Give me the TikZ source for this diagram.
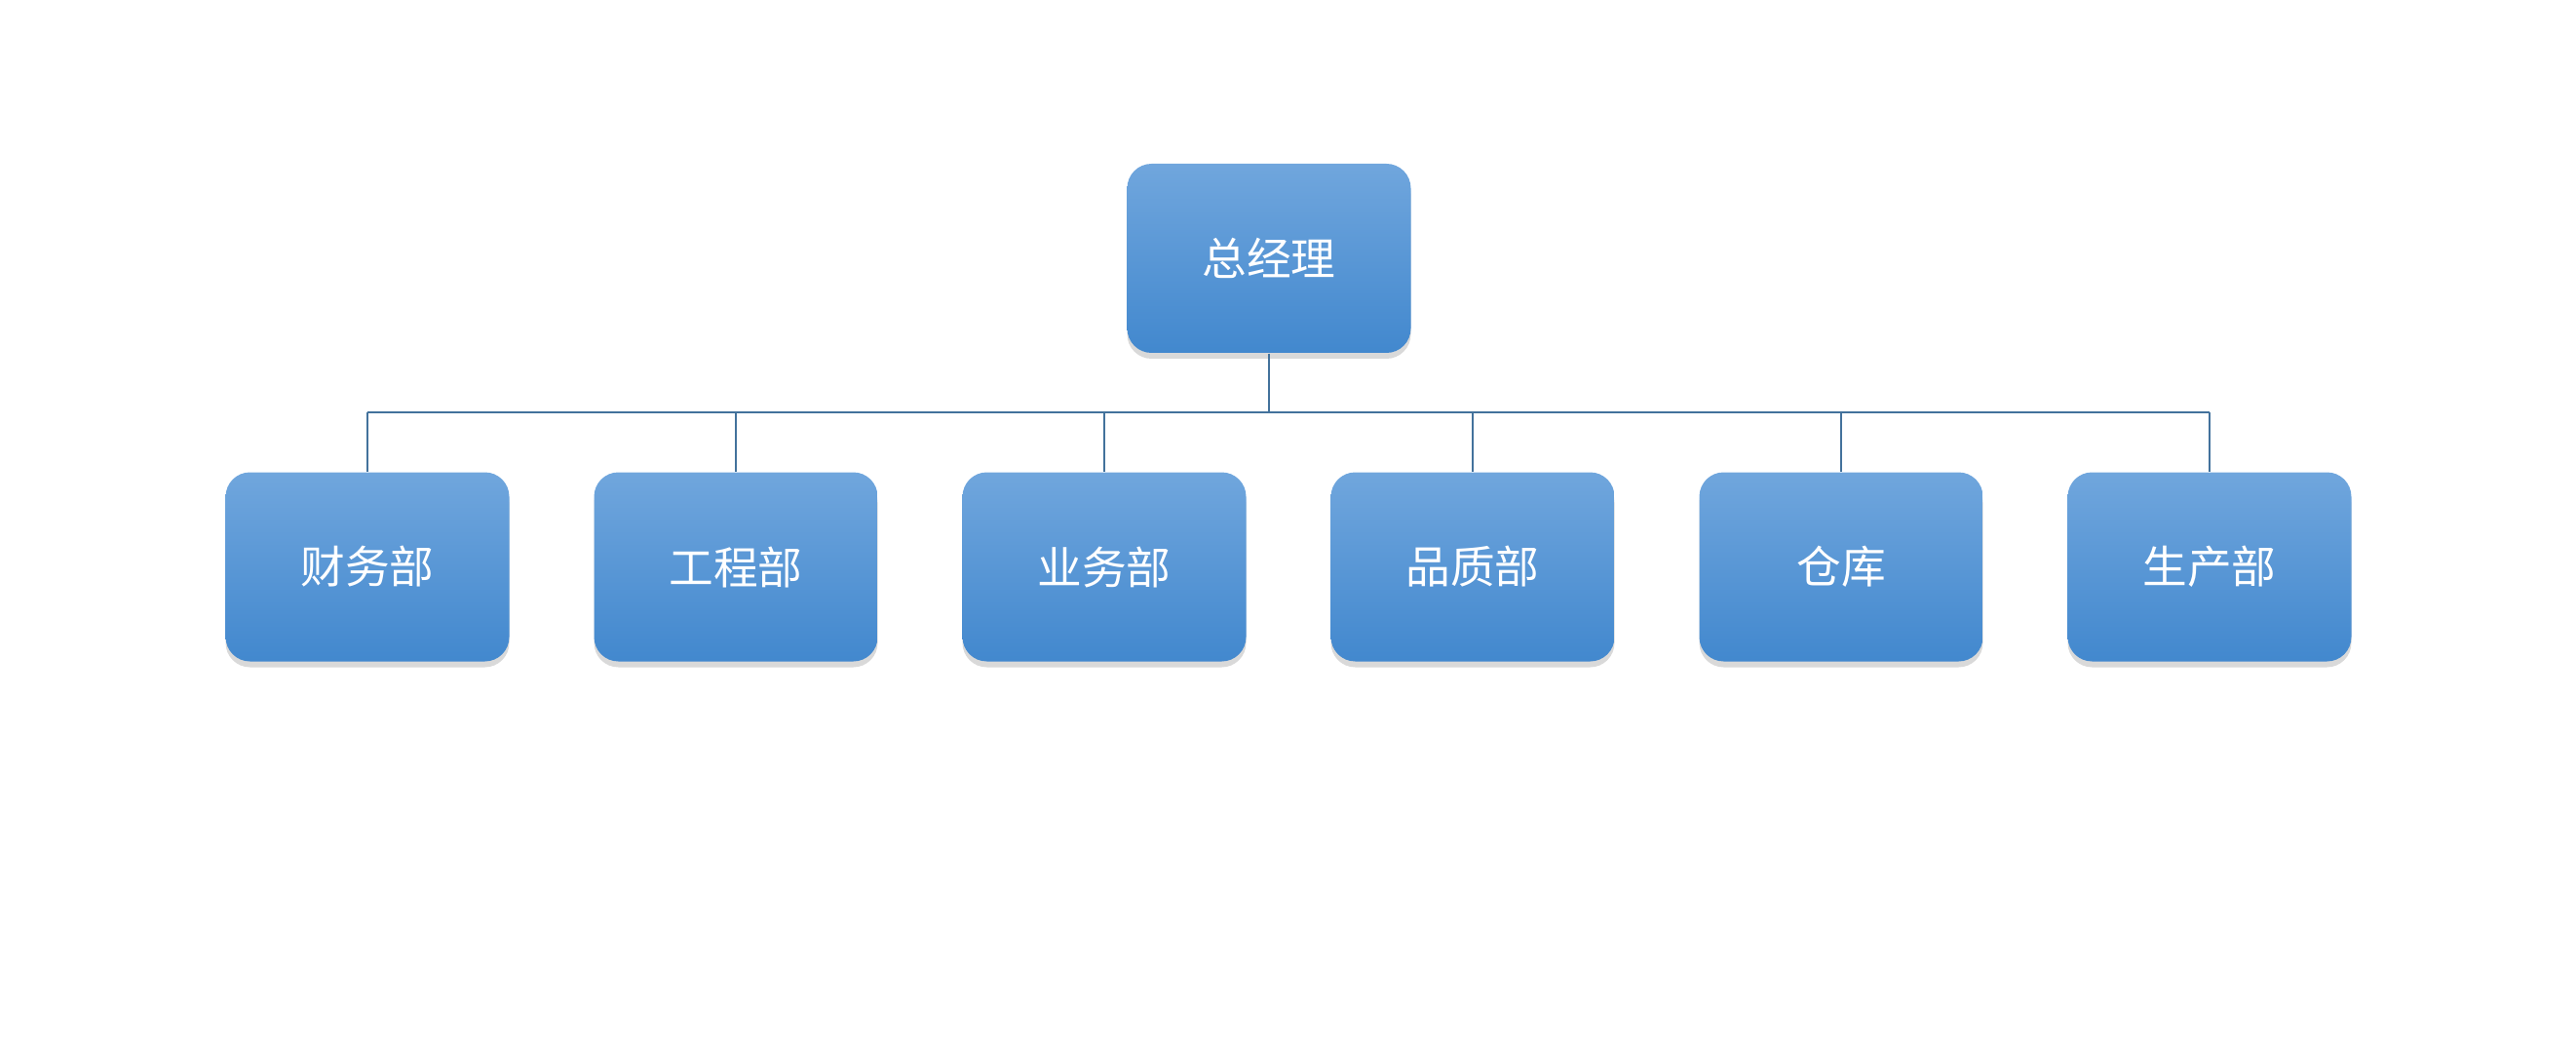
\documentclass[tikz,border=0pt]{standalone}
\usepackage{fontspec}
\setmainfont{Noto Sans CJK SC}
\usetikzlibrary{positioning,shadows}
\definecolor{boxtop}{RGB}{112,166,221}
\definecolor{boxbot}{RGB}{66,136,206}
\definecolor{linkcol}{RGB}{67,114,156}
\tikzset{
  unit/.style={rounded corners=.25cm,minimum width=2.91cm,minimum height=1.94cm,
    top color=boxtop,bottom color=boxbot,text=white,
    font=\fontsize{13}{15}\selectfont,
    drop shadow={opacity=.3,shadow xshift=0pt,shadow yshift=-.6mm}},
  link/.style={draw=linkcol,line width=.6pt}
}
\begin{document}
\begin{tikzpicture}
\useasboundingbox (0,0) rectangle (26.43,-10.71);
\node[unit] (gm) at (13.02,-2.65) {总经理};
\coordinate (bus) at (0,-4.23);
\foreach \name [count=\i] in {财务部,工程部,业务部,品质部,仓库,生产部}
  \node[unit] (d\i) at ({3.77+3.78*(\i-1)},-5.815) {\name};

\draw[link] (gm.south) -- (gm.south |- bus);
\draw[link] (d1.north |- bus) -- (d6.north |- bus);
\foreach \i in {1,...,6}
  \draw[link] (d\i.north) -- (d\i.north |- bus);
\end{tikzpicture}
\end{document}
